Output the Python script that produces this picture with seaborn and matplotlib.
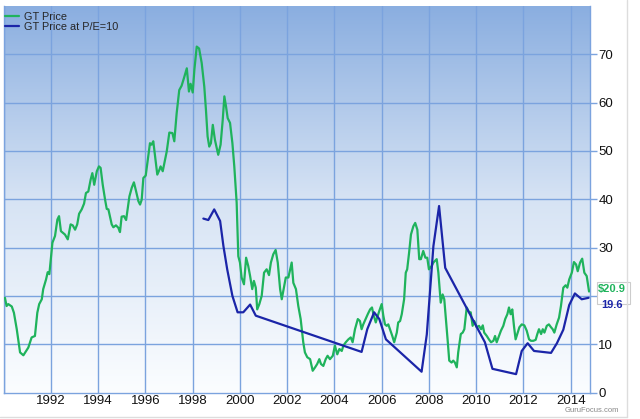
import numpy as np
import pandas as pd
import matplotlib
matplotlib.use("Agg")
import matplotlib.pyplot as plt
from matplotlib.colors import LinearSegmentedColormap
import seaborn as sns

# ---- data ----
price_years = [1990.05, 1990.12, 1990.19, 1990.34, 1990.43, 1990.55, 1990.69, 1990.83, 1991.04, 1991.18,
               1991.32, 1991.42, 1991.50, 1991.61, 1991.67, 1991.79, 1991.86, 1991.93, 1992.06, 1992.17,
               1992.27, 1992.34, 1992.42, 1992.59, 1992.71, 1992.83, 1992.92, 1993.02, 1993.11, 1993.19,
               1993.30, 1993.40, 1993.48, 1993.58, 1993.68, 1993.75, 1993.83, 1993.94, 1994.03, 1994.10,
               1994.19, 1994.29, 1994.36, 1994.43, 1994.57, 1994.64, 1994.75, 1994.85, 1994.92, 1994.99,
               1995.09, 1995.18, 1995.32, 1995.42, 1995.51, 1995.60, 1995.70, 1995.77, 1995.84, 1995.91,
               1996.01, 1996.19, 1996.26, 1996.33, 1996.50, 1996.59, 1996.64, 1996.73, 1996.90, 1997.01,
               1997.14, 1997.22, 1997.32, 1997.43, 1997.53, 1997.63, 1997.75, 1997.84, 1997.91, 1998.00,
               1998.07, 1998.17, 1998.27, 1998.38, 1998.49, 1998.56, 1998.63, 1998.70, 1998.77, 1998.85,
               1998.94, 1999.08, 1999.18, 1999.27, 1999.34, 1999.41, 1999.48, 1999.58, 1999.68, 1999.76,
               1999.86, 1999.93, 2000.00, 2000.07, 2000.17, 2000.26, 2000.35, 2000.43, 2000.52, 2000.59,
               2000.67, 2000.73, 2000.82, 2000.92, 2001.02, 2001.13, 2001.23, 2001.31, 2001.41, 2001.51,
               2001.60, 2001.70, 2001.77, 2001.86, 2001.94, 2002.05, 2002.19, 2002.26, 2002.37, 2002.47,
               2002.57, 2002.68, 2002.75, 2002.85, 2002.97, 2003.08, 2003.18, 2003.27, 2003.36, 2003.43,
               2003.53, 2003.63, 2003.71, 2003.81, 2003.93, 2004.02, 2004.12, 2004.21, 2004.31, 2004.38,
               2004.48, 2004.59, 2004.69, 2004.77, 2004.87, 2004.99, 2005.08, 2005.15, 2005.22, 2005.32,
               2005.41, 2005.51, 2005.59, 2005.65, 2005.75, 2005.81, 2005.90, 2006.00, 2006.07, 2006.14,
               2006.21, 2006.28, 2006.35, 2006.45, 2006.53, 2006.64, 2006.70, 2006.78, 2006.85, 2006.95,
               2007.02, 2007.08, 2007.16, 2007.24, 2007.34, 2007.42, 2007.51, 2007.59, 2007.66, 2007.76,
               2007.85, 2007.93, 2008.00, 2008.12, 2008.19, 2008.33, 2008.40, 2008.50, 2008.58, 2008.65,
               2008.72, 2008.80, 2008.86, 2008.96, 2009.03, 2009.10, 2009.18, 2009.24, 2009.35, 2009.43,
               2009.50, 2009.60, 2009.70, 2009.77, 2009.85, 2009.92, 2010.02, 2010.12, 2010.21, 2010.28,
               2010.34, 2010.45, 2010.54, 2010.63, 2010.73, 2010.80, 2010.87, 2010.97, 2011.05, 2011.15,
               2011.23, 2011.32, 2011.39, 2011.46, 2011.53, 2011.60, 2011.67, 2011.74, 2011.83, 2011.93,
               2012.04, 2012.14, 2012.24, 2012.32, 2012.42, 2012.52, 2012.59, 2012.66, 2012.75, 2012.82,
               2012.89, 2012.99, 2013.08, 2013.17, 2013.24, 2013.31, 2013.41, 2013.51, 2013.59, 2013.69,
               2013.79, 2013.86, 2013.94, 2014.05, 2014.14, 2014.23, 2014.30, 2014.40, 2014.49, 2014.58,
               2014.68, 2014.78]
price_values = [19.6, 17.9, 18.3, 17.8, 16.5, 13.1, 8.3, 7.7, 9.3, 11.4,
                11.7, 16.5, 18.3, 19.3, 21.4, 23.4, 24.9, 24.5, 31.0, 32.4,
                35.8, 36.5, 33.4, 32.7, 31.7, 34.8, 34.6, 33.7, 34.8, 37.0,
                37.9, 39.1, 41.3, 41.6, 44.1, 45.4, 43.0, 45.8, 46.8, 46.5,
                43.0, 39.9, 38.0, 37.9, 34.8, 34.2, 34.6, 34.1, 33.2, 36.4,
                36.5, 35.7, 40.6, 42.4, 43.5, 41.7, 39.6, 38.9, 39.9, 44.4,
                44.9, 51.6, 51.3, 52.0, 45.1, 46.1, 46.8, 45.8, 49.9, 53.8,
                53.7, 52.0, 57.8, 62.6, 63.5, 65.1, 67.1, 62.3, 63.9, 62.1,
                66.8, 71.6, 71.2, 68.2, 63.3, 58.5, 53.0, 50.9, 51.6, 55.4,
                52.3, 49.2, 51.3, 56.4, 61.3, 59.2, 56.8, 55.8, 51.6, 46.8,
                39.3, 28.2, 26.9, 23.8, 22.4, 27.9, 26.2, 24.1, 21.4, 23.1,
                21.7, 17.2, 18.3, 20.0, 24.8, 25.5, 24.3, 26.9, 28.6, 29.5,
                26.9, 21.4, 19.3, 21.7, 23.8, 23.8, 26.9, 22.7, 21.4, 17.9,
                15.2, 10.4, 8.3, 7.3, 6.9, 4.5, 5.2, 5.9, 6.9, 5.9,
                5.5, 6.9, 7.6, 6.9, 7.6, 9.7, 7.9, 9.0, 8.6, 9.7,
                10.4, 11.0, 11.4, 10.4, 13.1, 15.2, 14.8, 13.1, 14.1, 15.2,
                16.2, 17.2, 17.6, 16.2, 14.5, 15.5, 16.9, 18.3, 15.9, 14.1,
                13.8, 14.1, 13.1, 11.7, 10.4, 12.4, 14.5, 14.8, 16.2, 19.3,
                24.8, 25.5, 28.9, 32.7, 34.4, 35.1, 33.7, 27.6, 27.6, 29.3,
                27.9, 27.9, 25.5, 26.2, 26.9, 27.6, 24.8, 18.6, 20.3, 19.3,
                15.2, 10.4, 6.6, 6.2, 6.6, 6.2, 5.2, 8.3, 12.1, 12.4,
                13.1, 17.6, 16.6, 16.6, 13.8, 14.8, 13.5, 13.8, 13.1, 13.9,
                12.4, 11.7, 11.0, 10.4, 10.7, 11.7, 10.4, 11.7, 12.8, 13.8,
                15.2, 16.2, 17.6, 16.2, 17.2, 13.8, 11.0, 12.1, 13.5, 14.1,
                13.9, 12.8, 11.0, 10.7, 10.7, 10.9, 12.1, 13.1, 12.1, 13.1,
                12.4, 13.8, 14.1, 13.5, 13.1, 12.4, 14.1, 15.5, 17.9, 21.7,
                22.2, 21.7, 23.4, 24.8, 27.0, 26.5, 25.1, 26.9, 27.7, 24.8,
                24.1, 20.9]

pe_years = [1998.45, 1998.66, 1998.91, 1999.16, 1999.30, 1999.46, 1999.68, 1999.90, 2000.14, 2000.43,
            2000.67, 2005.15, 2005.39, 2005.68, 2005.90, 2006.18, 2007.69, 2007.91, 2008.19, 2008.43,
            2008.69, 2010.37, 2010.69, 2011.69, 2011.93, 2012.18, 2012.45, 2013.17, 2013.42, 2013.69,
            2013.94, 2014.18, 2014.47, 2014.76]
pe_values = [36.0, 35.7, 37.9, 35.5, 30.3, 25.5, 20.0, 16.6, 16.6, 18.2,
             15.9, 8.4, 13.1, 16.6, 15.2, 11.0, 4.3, 12.0, 30.3, 38.6,
             25.8, 10.4, 4.9, 3.8, 8.6, 10.2, 8.6, 8.2, 10.2, 13.0,
             18.1, 20.5, 19.3, 19.6]

series_labels = ["GT Price", "GT Price at P/E=10"]
year_ticks = list(range(1992, 2015, 2))
value_ticks = [0, 10, 20, 30, 40, 50, 60, 70]

# ---- style ----
sns.set_style("white")
plt.rcParams["font.family"] = ["Liberation Sans", "DejaVu Sans"]

GREEN = "#1fb35c"
BLUE = "#1b25a8"
GRID = "#7ba3de"

fig = plt.figure(figsize=(6.4, 4.19), dpi=100)
ax = fig.add_axes([4 / 640, 26.5 / 419, 586 / 640, 386.5 / 419])

xmin, xmax = 1990.01, 2014.82
ymin, ymax = 0, 80

# gradient background
cmap = LinearSegmentedColormap.from_list("bg", ["#fbfdff", "#d6e3f4", "#8aaee0"])
grad = np.linspace(0, 1, 256).reshape(-1, 1)
ax.imshow(grad, extent=[xmin, xmax, ymin, ymax], origin="lower", aspect="auto",
          cmap=cmap, zorder=0, interpolation="bicubic")

df_price = pd.DataFrame({"year": price_years, "value": price_values})
df_pe = pd.DataFrame({"year": pe_years, "value": pe_values})

sns.lineplot(data=df_price, x="year", y="value", ax=ax, color=GREEN, linewidth=1.6,
             label=series_labels[0], zorder=3, estimator=None)
sns.lineplot(data=df_pe, x="year", y="value", ax=ax, color=BLUE, linewidth=1.6,
             label=series_labels[1], zorder=3, estimator=None)

ax.set_xlim(xmin, xmax)
ax.set_ylim(ymin, ymax)
ax.set_xlabel("")
ax.set_ylabel("")

# grid
for yr in range(1990, 2015, 2):
    ax.axvline(yr, color=GRID, linewidth=1.0, zorder=1)
for v in value_ticks[1:]:
    ax.axhline(v, color=GRID, linewidth=1.0, zorder=1)

ax.set_xticks(year_ticks)
ax.set_xticklabels([str(y) for y in year_ticks])
ax.yaxis.tick_right()
ax.set_yticks(value_ticks)
ax.set_yticklabels([str(v) for v in value_ticks])
ax.tick_params(axis="x", length=0, pad=2, labelsize=9.5, colors="#111111")
ax.tick_params(axis="y", length=5, width=1.0, color=GRID, pad=1, labelsize=9.5,
               labelcolor="#111111")

for side, sp in ax.spines.items():
    sp.set_color(GRID)
    sp.set_linewidth(1.0)
ax.spines["top"].set_visible(False)

leg = ax.legend(loc="upper left", frameon=False, fontsize=7.8, handlelength=1.25,
                handletextpad=0.45, labelspacing=0.05, borderaxespad=0.0, borderpad=0.45,
                bbox_to_anchor=(-0.006, 0.998))

# end value labels
ax.add_patch(plt.Rectangle((1.012, (price_values[-1] - 2.6) / ymax), 0.056, 4.6 / ymax,
                           transform=ax.transAxes, fill=True, facecolor="white",
                           edgecolor="#cccccc", linewidth=0.8, clip_on=False, zorder=4))
ax.text(1.013, price_values[-1] / ymax + 0.006, f"${price_values[-1]:.1f}", transform=ax.transAxes,
        color=GREEN, fontsize=8, fontweight="bold", va="center", ha="left", clip_on=False, zorder=5)
ax.text(1.019, pe_values[-1] / ymax - 0.019, f"{pe_values[-1]:.1f}", transform=ax.transAxes,
        color=BLUE, fontsize=8, fontweight="bold", va="center", ha="left", clip_on=False, zorder=5)

# frame shadow and credit
fig.add_artist(plt.Line2D([627 / 640, 627 / 640], [2.5 / 419, 1.0], transform=fig.transFigure,
                          color="#dddddd", linewidth=1.0))
fig.add_artist(plt.Line2D([0, 627 / 640], [2.5 / 419, 2.5 / 419], transform=fig.transFigure,
                          color="#dddddd", linewidth=1.0))
fig.text(619 / 640, 5.5 / 419, "GuruFocus.com", ha="right", va="bottom", fontsize=5.5,
         color="#888888")

fig.savefig("out.png", dpi=100)
